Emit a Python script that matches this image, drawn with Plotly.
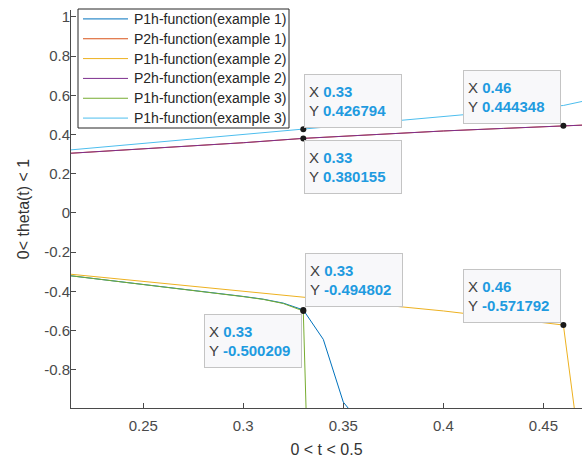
import plotly.graph_objects as go

# ---- data ----
t_up = [0.21, 0.25, 0.30, 0.33, 0.37, 0.40, 0.43, 0.46, 0.47]
p2h_ex1 = [0.302, 0.326, 0.358, 0.380155, 0.403, 0.418, 0.431, 0.444348, 0.448]
p2h_ex2 = [0.302, 0.326, 0.358, 0.380155, 0.403, 0.418, 0.431, 0.444348, 0.448]
p1h_ex3_up = [0.318, 0.354, 0.399, 0.426794, 0.462, 0.489, 0.519, 0.548, 0.570]

t_yel = [0.21, 0.25, 0.28, 0.30, 0.33, 0.37, 0.40, 0.43, 0.46, 0.47]
p1h_ex2 = [-0.309, -0.350, -0.381, -0.400, -0.429, -0.470, -0.500, -0.534, -0.571792, -1.35]

t_blue = [0.21, 0.25, 0.28, 0.30, 0.31, 0.32, 0.33, 0.34, 0.35, 0.36]
p1h_ex1 = [-0.316, -0.364, -0.400, -0.426, -0.440, -0.460, -0.494802, -0.645, -0.965, -1.09]

t_grn = [0.21, 0.25, 0.28, 0.30, 0.31, 0.32, 0.33, 0.34]
p1h_ex3_low = [-0.316, -0.364, -0.400, -0.427, -0.441, -0.462, -0.500209, -4.1]

names = ["P1h-function(example 1)", "P2h-function(example 1)", "P1h-function(example 2)",
         "P2h-function(example 2)", "P1h-function(example 3)", "P1h-function(example 3)"]
colors = ["#0072BD", "#D95319", "#EDB120", "#7E2F8E", "#77AC30", "#4DBEEE"]

tip_x = [0.33, 0.33, 0.46, 0.33, 0.33, 0.46]
tip_y = [0.426794, 0.380155, 0.444348, -0.494802, -0.500209, -0.571792]
# box placement relative to the point: (xanchor, yanchor, xshift, yshift)
tip_place = [("left", "bottom", 1, 1), ("left", "top", 1, -2), ("right", "bottom", -2, 2),
             ("left", "bottom", 2, 3), ("right", "top", -1, -3), ("right", "bottom", -2, 2)]

xlim = [0.2139, 0.4693]
ylim = [-0.995, 1.035]

W, H = 585, 459
ML, MR, MT, MB = 71, 3, 10, 51
PW, PH = W - ML - MR, H - MT - MB


def px(x):
    return (x - ML) / PW


def py(y):
    return (H - MB - y) / PH


fig = go.Figure()
series = [(t_blue, p1h_ex1), (t_up, p2h_ex1), (t_yel, p1h_ex2),
          (t_up, p2h_ex2), (t_grn, p1h_ex3_low), (t_up, p1h_ex3_up)]
for (xs, ys), nm, c in zip(series, names, colors):
    fig.add_trace(go.Scatter(x=xs, y=ys, mode="lines", name=nm, showlegend=False,
                             line=dict(color=c, width=1)))

fig.add_trace(go.Scatter(x=tip_x, y=tip_y, mode="markers", showlegend=False,
                         marker=dict(color="#1a1a1a", size=6)))

val_col = "#1F9BE0"
for x, y, (xa, ya, xs, ys) in zip(tip_x, tip_y, tip_place):
    txt = (f"<span style='color:#404040'>X </span><b><span style='color:{val_col}'>{x:g}</span></b><br>"
           f"<span style='color:#404040'>Y </span><b><span style='color:{val_col}'>{y:g}</span></b>")
    fig.add_annotation(x=x, y=y, xref="x", yref="y", text=txt, showarrow=False,
                       xanchor=xa, yanchor=ya, xshift=xs, yshift=ys, align="left",
                       width=88, height=44, borderpad=4,
                       bgcolor="#F8F8FA", bordercolor="#C4C4C4", borderwidth=1,
                       font=dict(family="Liberation Sans, Arial", size=15, color="#404040"))

# ---- legend box (MATLAB style) ----
leg_x0, leg_x1, leg_y0, leg_y1 = 78, 289, 9, 128
fig.add_shape(type="rect", xref="paper", yref="paper",
              x0=px(leg_x0), x1=px(leg_x1), y0=py(leg_y1), y1=py(leg_y0),
              line=dict(color="#262626", width=1), fillcolor="white", layer="above")
row_h = (leg_y1 - leg_y0) / len(names)
for i, (nm, c) in enumerate(zip(names, colors)):
    yc = leg_y0 + row_h * (i + 0.5)
    fig.add_shape(type="line", xref="paper", yref="paper",
                  x0=px(83), x1=px(128), y0=py(yc), y1=py(yc),
                  line=dict(color=c, width=1), layer="above")
    fig.add_annotation(x=px(132), y=py(yc), xref="paper", yref="paper", text=nm,
                       showarrow=False, xanchor="left", yanchor="middle",
                       font=dict(family="Liberation Sans, Arial", size=14, color="#262626"))

axis_common = dict(showgrid=False, zeroline=False, showline=True, linecolor="#4a4a4a",
                   linewidth=1, ticks="inside", ticklen=5, tickcolor="#4a4a4a",
                   tickfont=dict(family="Liberation Sans, Arial", size=15, color="#4a4a4a"),
                   mirror=False)

fig.update_layout(
    width=W, height=H,
    margin=dict(l=ML, r=MR, t=MT, b=MB),
    paper_bgcolor="white", plot_bgcolor="white",
    xaxis=dict(range=xlim, tickvals=[0.25, 0.3, 0.35, 0.4, 0.45],
               ticktext=["0.25", "0.3", "0.35", "0.4", "0.45"], ticklabelstandoff=4,
               title=dict(text="0 < t < 0.5", standoff=10,
                          font=dict(family="Liberation Sans, Arial", size=16, color="#333")),
               **axis_common),
    yaxis=dict(range=ylim, tickvals=[-0.8, -0.6, -0.4, -0.2, 0, 0.2, 0.4, 0.6, 0.8, 1],
               ticktext=["-0.8", "-0.6", "-0.4", "-0.2", "0", "0.2", "0.4", "0.6", "0.8", "1"],
               ticklabelstandoff=-3,
               title=dict(text="0< theta(t) < 1", standoff=10,
                          font=dict(family="Liberation Sans, Arial", size=16, color="#333")),
               **axis_common),
    showlegend=False,
)

fig.write_html("out.html")
